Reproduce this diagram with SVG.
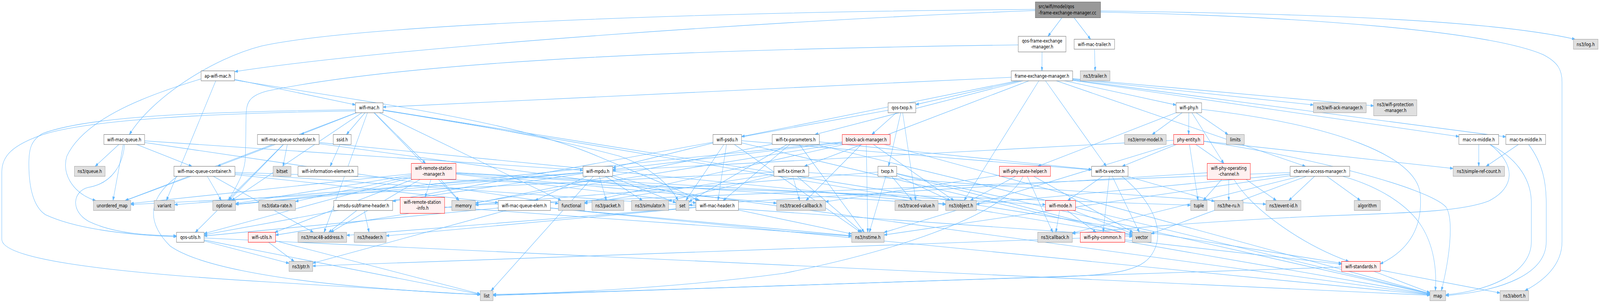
<svg xmlns="http://www.w3.org/2000/svg" width="5267" height="776" viewBox="0 0 5267 776" preserveAspectRatio="none">
<defs>
<style>
svg:root{width:100vw;height:100vh}
.edges path{fill:none;stroke:#63b8ff;stroke-width:1.1;marker-end:url(#ah)}
.nd rect{stroke-width:1}
.n rect{fill:#ffffff;stroke:#666666}
.x rect{fill:#e0e0e0;stroke:#999999}
.r rect{fill:#fff0f0;stroke:#ff0000}
.t rect{fill:#999999;stroke:#666666}
.nd text{font-family:"DejaVu Sans","Liberation Sans",sans-serif;font-size:12.9px;fill:#000000;text-anchor:middle}
</style>
<marker id="ah" markerWidth="10" markerHeight="7" refX="10" refY="3.5" orient="auto" markerUnits="userSpaceOnUse"><path d="M0,0 L10,3.5 L0,7 Z" fill="#63b8ff" stroke="#63b8ff" stroke-width="1"/></marker>
</defs>
<rect x="0" y="0" width="5267" height="776" fill="#ffffff"/>
<g id="connectors" class="edges">
<path d="M3515.5,25 L3449.9,93"/>
<path d="M3515.5,25 L3589.9,100.5"/>
<path d="M3623,28 C4300,35 4900,50 5185,100.5"/>
<path d="M3623,31 C4300,42 4900,80 5080,140 C5130,160 5142,180 5142,210 L5142,619 C5142,680 5080,720 5020,744.5"/>
<path d="M3408,27 C2600,50 1300,120 773,183.5"/>
<path d="M3408,24 C2400,30 1200,60 860,118 C700,150 500,250 426,344.5"/>
<path d="M3430.5,113 L3430,181.5"/>
<path d="M3352,115 C2400,125 1400,150 880,233 C820,245 810,262 810,300 L808,400 C806,450 770,485 752,513.5"/>
<path d="M3602.5,113 L3605,181.5"/>
<path d="M717,194.25 L1170,268.5"/>
<path d="M772,205 C1200,260 1700,310 1967,400 C2150,460 2250,490 2298,513.5"/>
<path d="M717,194.25 L547.8,513.5"/>
<path d="M662,202 C500,240 280,300 220,400 C200,450 250,500 315,513.5"/>
<path d="M3430,194.25 L1261,274.3"/>
<path d="M3430,194.25 L3014.5,267.9"/>
<path d="M3430,194.25 L2441,349.9"/>
<path d="M3430,194.25 L2682.9,344.5"/>
<path d="M3430,194.25 L2648,426"/>
<path d="M3430,194.25 L3871.5,268.9"/>
<path d="M3430,194.25 L3641.8,426"/>
<path d="M3430,194.25 L4802.5,349.8"/>
<path d="M3430,194.25 L4957,350.5"/>
<path d="M3430,194.25 L4323.5,268.75"/>
<path d="M3430,194.25 L4522,271"/>
<path d="M3430,194.25 L4297.3,426"/>
<path d="M3430,194.25 L3173.7,513.5"/>
<path d="M1215.5,276 L990.8,344.5"/>
<path d="M1215.5,276 L1140.5,344.5"/>
<path d="M1215.5,276 L1066.9,595"/>
<path d="M1215.5,276 L1400.8,418.5"/>
<path d="M1215.5,276 L1510.2,513.5"/>
<path d="M1261,283 C1500,310 1800,350 2040,400 C2150,430 2210,480 2232,513.5"/>
<path d="M1170,281 C700,286 300,295 140,342 C100,360 95,385 95,420 C95,480 110,530 150,550 C260,590 450,603 581,606"/>
<path d="M1170,284 C700,290 300,305 140,345 C40,372 6,400 6,440 L6,613 C6,660 300,695 880,722 C1200,738 1450,750 1581,755"/>
<path d="M1215.5,276 L412.1,513.5"/>
<path d="M1215.5,276 L762.3,513.5"/>
<path d="M1215.5,276 L3727.5,603.7"/>
<path d="M1215.5,276 L4416.5,674.3"/>
<path d="M1215.5,276 L1847.1,513.5"/>
<path d="M409,357.25 L313.3,426"/>
<path d="M409,357.25 L372,513.5"/>
<path d="M410,370 C405,420 370,470 290,480 C240,490 230,540 292,567 C380,600 500,603 581,604"/>
<path d="M409,357.25 L631.7,426"/>
<path d="M409,357.25 L1919,436.2"/>
<path d="M409,357.25 L1838,521.3"/>
<path d="M949,357.25 L931.7,426"/>
<path d="M949,357.25 L716.2,426"/>
<path d="M949,357.25 L753.9,513.5"/>
<path d="M949,357.25 L642.9,595"/>
<path d="M949,357.25 L3113,522.4"/>
<path d="M949,357.25 L4707,754.5"/>
<path d="M1126.5,357.25 L1086.9,426"/>
<path d="M2394,357.25 L2017,429.4"/>
<path d="M2394,357.25 L2257.6,513.5"/>
<path d="M2394,357.25 L2363.5,513.5"/>
<path d="M2394,357.25 L3593.5,434.9"/>
<path d="M2394,357.25 L2833.4,595"/>
<path d="M2394,357.25 L3727.5,602"/>
<path d="M2619.5,357.25 L2380.5,513.5"/>
<path d="M2619.5,357.25 L3593.5,434"/>
<path d="M2619.5,357.25 L2844.9,595"/>
<path d="M2619.5,357.25 L4707,752.3"/>
<path d="M2619.5,357.25 L1565,520.2"/>
<path d="M2619.5,357.25 L2268,516.5"/>
<path d="M2851.5,357.25 L2653.2,513.5"/>
<path d="M2851.5,357.25 L2856.7,595"/>
<path d="M2851.5,357.25 L3140,513.5"/>
<path d="M2851.5,357.25 L4707,751.7"/>
<path d="M2851.5,357.25 L2017,434.2"/>
<path d="M2851.5,357.25 L775.5,523.2"/>
<path d="M2851.5,357.25 L907,602.1"/>
<path d="M2851.5,357.25 L1924,518.8"/>
<path d="M2605,438.75 L2632.3,513.5"/>
<path d="M2605,438.75 L2201,514.8"/>
<path d="M2605,438.75 L2838,595"/>
<path d="M2605,438.75 L4167.5,523.1"/>
<path d="M2605,438.75 L1924,521"/>
<path d="M2605,438.75 L430.5,523.8"/>
<path d="M2921,438.75 L2861.8,595"/>
<path d="M2921,438.75 L3003,513.5"/>
<path d="M2921,438.75 L3128.2,513.5"/>
<path d="M2921,438.75 L1565,523.8"/>
<path d="M2921,438.75 L4707,752.7"/>
<path d="M2921,438.75 L3727.5,601.5"/>
<path d="M2969,276 L2869.9,344.5"/>
<path d="M2969,276 L2924.8,426"/>
<path d="M2969,276 L3014.6,513.5"/>
<path d="M2969,276 L672,601.3"/>
<path d="M673,438.75 L1640,519.1"/>
<path d="M673,438.75 L1031.7,595"/>
<path d="M673,438.75 L413.3,513.5"/>
<path d="M673,438.75 L728.5,513.5"/>
<path d="M584,451.5 C500,500 470,560 560,630 C650,680 900,715 1200,735 C1400,748 1520,753 1581,754"/>
<path d="M673,438.75 L3919.5,525.5"/>
<path d="M673,438.75 L3727.5,606"/>
<path d="M1726,526.25 L672,604.4"/>
<path d="M1726,526.25 L2803.5,603.9"/>
<path d="M1726,526.25 L1029.5,674"/>
<path d="M1726,526.25 L4707,755.3"/>
<path d="M1968,438.75 L1761.3,513.5"/>
<path d="M1968,438.75 L1996.2,513.5"/>
<path d="M1968,438.75 L2114.9,513.5"/>
<path d="M1968,438.75 L2225,519.5"/>
<path d="M1968,438.75 L2303.7,513.5"/>
<path d="M1968,438.75 L1292.5,515.3"/>
<path d="M1968,438.75 L574.5,524.2"/>
<path d="M1968,438.75 L775.5,523.6"/>
<path d="M1968,438.75 L1616.7,744.5"/>
<path d="M1427.5,439 L1399.2,505.5"/>
<path d="M1427.5,439 L1511.6,513.5"/>
<path d="M1427.5,439 L972.5,516"/>
<path d="M1427.5,439 L672,598.2"/>
<path d="M1427.5,439 L904.7,595"/>
<path d="M1427.5,439 L1088.7,595"/>
<path d="M1427.5,439 L430.5,521.2"/>
<path d="M1427.5,439 L775.5,521.5"/>
<path d="M1427.5,439 L3441.5,524.2"/>
<path d="M1427.5,439 L3113,523.7"/>
<path d="M1427.5,439 L2556.5,520.4"/>
<path d="M1427.5,439 L2291,519.7"/>
<path d="M1195.5,526.25 L1082,595"/>
<path d="M1195.5,526.25 L1214.9,595"/>
<path d="M1390.5,526 L2803.5,604.8"/>
<path d="M2361,526.25 L1141,602.7"/>
<path d="M2361,526.25 L1271,604"/>
<path d="M2361,526.25 L2803.5,599"/>
<path d="M626.5,607.75 L951.5,674.3"/>
<path d="M626.5,607.75 L1581,754"/>
<path d="M626.5,607.75 L4707,756.3"/>
<path d="M862,607.75 L968.5,669.5"/>
<path d="M862,607.75 L1581,753"/>
<path d="M3913.5,276 L3913,344.5"/>
<path d="M3913.5,276 L3792.9,344.5"/>
<path d="M3913.5,276 L4042.5,344.5"/>
<path d="M3913.5,276 L4028.5,418.5"/>
<path d="M3913.5,276 L3416.3,426"/>
<path d="M3955,280 C4400,320 4660,400 4675,495 C4685,580 4640,640 4543.5,676"/>
<path d="M3913,357.25 L3694.1,426"/>
<path d="M3913,357.25 L3944,513.5"/>
<path d="M3913,357.25 L4201.5,513.5"/>
<path d="M3913,357.25 L4783.5,431.5"/>
<path d="M3962,362 C4300,400 4700,480 4760,530 C4785,560 4775,650 4745,744.5"/>
<path d="M3913,357.25 L2910.5,595.1"/>
<path d="M3913,357.25 L2017,436.7"/>
<path d="M3374,438.75 L3465.5,595"/>
<path d="M3374,438.75 L3194.2,513.5"/>
<path d="M3374,438.75 L2717.5,516.7"/>
<path d="M3374,438.75 L3729.5,595"/>
<path d="M3368,451.5 C3300,560 2900,650 2580,700 C2200,740 1800,752 1623,754"/>
<path d="M3653.5,438.75 L3514.7,513.5"/>
<path d="M3653.5,438.75 L3631.3,595"/>
<path d="M3653.5,438.75 L3750.6,595"/>
<path d="M3693,451.5 C3800,520 3830,590 3800,640 C3770,690 3700,705 3440,710 C2800,725 2000,748 1623,756"/>
<path d="M3653.5,438.75 L3998,515.75"/>
<path d="M4045,439 L3960.9,513.5"/>
<path d="M4045,439 L4045,513.5"/>
<path d="M4062,459.5 C4130,545 4300,630 4440,669.5"/>
<path d="M4045,439 L2268,525.2"/>
<path d="M4345,438.75 L4242.5,513.5"/>
<path d="M4345,438.75 L4478.3,513.5"/>
<path d="M4345,438.75 L3789.5,598.8"/>
<path d="M4420,451.5 C4550,480 4640,530 4680,580 C4720,630 4730,690 4725,744.5"/>
<path d="M4345,438.75 L2910.5,601.7"/>
<path d="M4345,438.75 L3214,522.5"/>
<path d="M4345,438.75 L3530,596.7"/>
<path d="M4345,438.75 L1565,525"/>
<path d="M4868,357.25 L4868,426"/>
<path d="M4905,370 C4980,400 5041,450 5041,520 L5041,619 C5041,700 4900,745 4759,755"/>
<path d="M4905,370 C4990,420 4990,480 4900,515 C4800,545 4600,545 4300,555 C3900,570 3650,590 3530,598"/>
<path d="M5022.5,357.25 L4892.2,426"/>
<path d="M5032,370 C5080,420 5090,470 5090,520 L5090,619 C5090,700 4950,745 4759,757"/>
<path d="M3491,526.25 L3475.8,595"/>
<path d="M3491,526.25 L3607.8,595"/>
<path d="M3491,526.25 L3727.5,598.3"/>
<path d="M3629.5,607.75 L4416.5,676.7"/>
<path d="M3629.5,607.75 L1029.5,681.2"/>
<path d="M3629.5,607.75 L4707,753.7"/>
<path d="M4480,682.25 L4707,749.5"/>
<path d="M4480,682.25 L4938,750.3"/>
<path d="M4480,682.25 L1623,756.7"/>
</g>
<g id="node-top" class="nd t"><rect x="3408" y="5" width="215" height="40.5"/><text x="3419" y="21.25" style="text-anchor:start">src/wifi/model/qos</text><text x="3419" y="36.75" style="text-anchor:start">-frame-exchange-manager.cc</text></g>
<g id="node-qfemh" class="nd n"><rect x="3352" y="93" width="157" height="40"/><text x="3430.5" y="109">qos-frame-exchange</text><text x="3430.5" y="124.5">-manager.h</text></g>
<g id="node-wifi-mac-trailer" class="nd n"><rect x="3536" y="100.5" width="133" height="25.5"/><text x="3602.5" y="117.75">wifi-mac-trailer.h</text></g>
<g id="node-log" class="nd x"><rect x="5179.5" y="100.5" width="81" height="25.5"/><text x="5220" y="117.75">ns3/log.h</text></g>
<g id="node-ap-wifi-mac" class="nd n"><rect x="662" y="181.5" width="110" height="25.5"/><text x="717" y="198.75">ap-wifi-mac.h</text></g>
<g id="node-fem" class="nd n"><rect x="3329" y="181.5" width="202" height="25.5"/><text x="3430" y="198.75">frame-exchange-manager.h</text></g>
<g id="node-trailer" class="nd x"><rect x="3556" y="181.5" width="98" height="25.5"/><text x="3605" y="198.75">ns3/trailer.h</text></g>
<g id="node-wifi-mac" class="nd n"><rect x="1170" y="263.25" width="91" height="25.5"/><text x="1215.5" y="280.5">wifi-mac.h</text></g>
<g id="node-qos-txop" class="nd n"><rect x="2923.5" y="263.25" width="91" height="25.5"/><text x="2969" y="280.5">qos-txop.h</text></g>
<g id="node-wifi-phy" class="nd n"><rect x="3871.5" y="263.25" width="84" height="25.5"/><text x="3913.5" y="280.5">wifi-phy.h</text></g>
<g id="node-ack" class="nd x"><rect x="4323.5" y="263.25" width="174" height="25.5"/><text x="4410.5" y="280.5">ns3/wifi-ack-manager.h</text></g>
<g id="node-prot" class="nd x"><rect x="4522" y="255.5" width="142" height="41"/><text x="4593" y="272">ns3/wifi-protection</text><text x="4593" y="287.5">-manager.h</text></g>
<g id="node-wmq" class="nd n"><rect x="342" y="344.5" width="134" height="25.5"/><text x="409" y="361.75">wifi-mac-queue.h</text></g>
<g id="node-sched" class="nd n"><rect x="847.5" y="344.5" width="203" height="25.5"/><text x="949" y="361.75">wifi-mac-queue-scheduler.h</text></g>
<g id="node-ssid" class="nd n"><rect x="1097" y="344.5" width="59" height="25.5"/><text x="1126.5" y="361.75">ssid.h</text></g>
<g id="node-psdu" class="nd n"><rect x="2347" y="344.5" width="94" height="25.5"/><text x="2394" y="361.75">wifi-psdu.h</text></g>
<g id="node-txparam" class="nd n"><rect x="2542" y="344.5" width="155" height="25.5"/><text x="2619.5" y="361.75">wifi-tx-parameters.h</text></g>
<g id="node-bam" class="nd r"><rect x="2772.5" y="344.5" width="158" height="25.5"/><text x="2851.5" y="361.75">block-ack-manager.h</text></g>
<g id="node-errmodel" class="nd x"><rect x="3702" y="344.5" width="137" height="25.5"/><text x="3770.5" y="361.75">ns3/error-model.h</text></g>
<g id="node-phyentity" class="nd r"><rect x="3863.5" y="344.5" width="99" height="25.5"/><text x="3913" y="361.75">phy-entity.h</text></g>
<g id="node-limits" class="nd x"><rect x="4037" y="344.5" width="59" height="25.5"/><text x="4066.5" y="361.75">limits</text></g>
<g id="node-macrx" class="nd n"><rect x="4802.5" y="344.5" width="131" height="25.5"/><text x="4868" y="361.75">mac-rx-middle.h</text></g>
<g id="node-mactx" class="nd n"><rect x="4957" y="344.5" width="131" height="25.5"/><text x="5022.5" y="361.75">mac-tx-middle.h</text></g>
<g id="node-queue" class="nd x"><rect x="245" y="426" width="101" height="25.5"/><text x="295.5" y="443.25">ns3/queue.h</text></g>
<g id="node-container" class="nd n"><rect x="572.5" y="426" width="201" height="25.5"/><text x="673" y="443.25">wifi-mac-queue-container.h</text></g>
<g id="node-bitset" class="nd x"><rect x="899" y="426" width="59" height="25.5"/><text x="928.5" y="443.25">bitset</text></g>
<g id="node-wie" class="nd n"><rect x="981" y="426" width="197" height="25.5"/><text x="1079.5" y="443.25">wifi-information-element.h</text></g>
<g id="node-wrsm" class="nd r"><rect x="1354" y="418.5" width="147" height="41"/><text x="1427.5" y="435">wifi-remote-station</text><text x="1427.5" y="450.5">-manager.h</text></g>
<g id="node-mpdu" class="nd n"><rect x="1919" y="426" width="98" height="25.5"/><text x="1968" y="443.25">wifi-mpdu.h</text></g>
<g id="node-txtimer" class="nd n"><rect x="2547.5" y="426" width="115" height="25.5"/><text x="2605" y="443.25">wifi-tx-timer.h</text></g>
<g id="node-txop" class="nd n"><rect x="2890" y="426" width="62" height="25.5"/><text x="2921" y="443.25">txop.h</text></g>
<g id="node-psh" class="nd r"><rect x="3290" y="426" width="168" height="25.5"/><text x="3374" y="443.25">wifi-phy-state-helper.h</text></g>
<g id="node-txvector" class="nd n"><rect x="3593.5" y="426" width="120" height="25.5"/><text x="3653.5" y="443.25">wifi-tx-vector.h</text></g>
<g id="node-opchan" class="nd r"><rect x="3974" y="418.5" width="142" height="41"/><text x="4045" y="435">wifi-phy-operating</text><text x="4045" y="450.5">-channel.h</text></g>
<g id="node-cam" class="nd n"><rect x="4247" y="426" width="196" height="25.5"/><text x="4345" y="443.25">channel-access-manager.h</text></g>
<g id="node-srefcount" class="nd x"><rect x="4783.5" y="426" width="169" height="25.5"/><text x="4868" y="443.25">ns3/simple-ref-count.h</text></g>
<g id="node-umap" class="nd x"><rect x="307.5" y="513.5" width="123" height="25.5"/><text x="369" y="530.75">unordered_map</text></g>
<g id="node-variant" class="nd x"><rect x="507.5" y="513.5" width="67" height="25.5"/><text x="541" y="530.75">variant</text></g>
<g id="node-optional" class="nd x"><rect x="700.5" y="513.5" width="75" height="25.5"/><text x="738" y="530.75">optional</text></g>
<g id="node-datarate" class="nd x"><rect x="851.5" y="513.5" width="121" height="25.5"/><text x="912" y="530.75">ns3/data-rate.h</text></g>
<g id="node-amsdu" class="nd n"><rect x="1098.5" y="513.5" width="194" height="25.5"/><text x="1195.5" y="530.75">amsdu-subframe-header.h</text></g>
<g id="node-wrsi" class="nd r"><rect x="1317.5" y="505.5" width="146" height="41"/><text x="1390.5" y="522">wifi-remote-station</text><text x="1390.5" y="537.5">-info.h</text></g>
<g id="node-memory" class="nd x"><rect x="1487" y="513.5" width="78" height="25.5"/><text x="1526" y="530.75">memory</text></g>
<g id="node-elem" class="nd n"><rect x="1640" y="513.5" width="172" height="25.5"/><text x="1726" y="530.75">wifi-mac-queue-elem.h</text></g>
<g id="node-functional" class="nd x"><rect x="1838" y="513.5" width="86" height="25.5"/><text x="1881" y="530.75">functional</text></g>
<g id="node-packet" class="nd x"><rect x="1948.5" y="513.5" width="105" height="25.5"/><text x="2001" y="530.75">ns3/packet.h</text></g>
<g id="node-simulator" class="nd x"><rect x="2079" y="513.5" width="122" height="25.5"/><text x="2140" y="530.75">ns3/simulator.h</text></g>
<g id="node-set" class="nd x"><rect x="2225" y="513.5" width="43" height="25.5"/><text x="2246.5" y="530.75">set</text></g>
<g id="node-wmh" class="nd n"><rect x="2291" y="513.5" width="140" height="25.5"/><text x="2361" y="530.75">wifi-mac-header.h</text></g>
<g id="node-tcb" class="nd x"><rect x="2556.5" y="513.5" width="161" height="25.5"/><text x="2637" y="530.75">ns3/traced-callback.h</text></g>
<g id="node-tval" class="nd x"><rect x="2946" y="513.5" width="142" height="25.5"/><text x="3017" y="530.75">ns3/traced-value.h</text></g>
<g id="node-object" class="nd x"><rect x="3113" y="513.5" width="101" height="25.5"/><text x="3163.5" y="530.75">ns3/object.h</text></g>
<g id="node-wmode" class="nd r"><rect x="3441.5" y="513.5" width="99" height="25.5"/><text x="3491" y="530.75">wifi-mode.h</text></g>
<g id="node-tuple" class="nd x"><rect x="3919.5" y="513.5" width="54" height="25.5"/><text x="3946.5" y="530.75">tuple</text></g>
<g id="node-heru" class="nd x"><rect x="3998" y="513.5" width="94" height="25.5"/><text x="4045" y="530.75">ns3/he-ru.h</text></g>
<g id="node-eventid" class="nd x"><rect x="4167.5" y="513.5" width="115" height="25.5"/><text x="4225" y="530.75">ns3/event-id.h</text></g>
<g id="node-algorithm" class="nd x"><rect x="4458" y="513.5" width="86" height="25.5"/><text x="4501" y="530.75">algorithm</text></g>
<g id="node-qosutils" class="nd n"><rect x="581" y="595" width="91" height="25.5"/><text x="626.5" y="612.25">qos-utils.h</text></g>
<g id="node-wutils" class="nd r"><rect x="817" y="595" width="90" height="25.5"/><text x="862" y="612.25">wifi-utils.h</text></g>
<g id="node-mac48" class="nd x"><rect x="981" y="595" width="160" height="25.5"/><text x="1061" y="612.25">ns3/mac48-address.h</text></g>
<g id="node-header" class="nd x"><rect x="1166" y="595" width="105" height="25.5"/><text x="1218.5" y="612.25">ns3/header.h</text></g>
<g id="node-nstime" class="nd x"><rect x="2803.5" y="595" width="107" height="25.5"/><text x="2857" y="612.25">ns3/nstime.h</text></g>
<g id="node-callback" class="nd x"><rect x="3416" y="595" width="114" height="25.5"/><text x="3473" y="612.25">ns3/callback.h</text></g>
<g id="node-phycommon" class="nd r"><rect x="3556" y="595" width="147" height="25.5"/><text x="3629.5" y="612.25">wifi-phy-common.h</text></g>
<g id="node-vector" class="nd x"><rect x="3727.5" y="595" width="62" height="25.5"/><text x="3758.5" y="612.25">vector</text></g>
<g id="node-ptr" class="nd x"><rect x="951.5" y="669.5" width="78" height="25.5"/><text x="990.5" y="686.75">ns3/ptr.h</text></g>
<g id="node-wstd" class="nd r"><rect x="4416.5" y="669.5" width="127" height="25.5"/><text x="4480" y="686.75">wifi-standards.h</text></g>
<g id="node-list" class="nd x"><rect x="1581" y="744.5" width="42" height="25.5"/><text x="1602" y="761.75">list</text></g>
<g id="node-map" class="nd x"><rect x="4707" y="744.5" width="52" height="25.5"/><text x="4733" y="761.75">map</text></g>
<g id="node-abort" class="nd x"><rect x="4938" y="744.5" width="94" height="25.5"/><text x="4985" y="761.75">ns3/abort.h</text></g>
</svg>
